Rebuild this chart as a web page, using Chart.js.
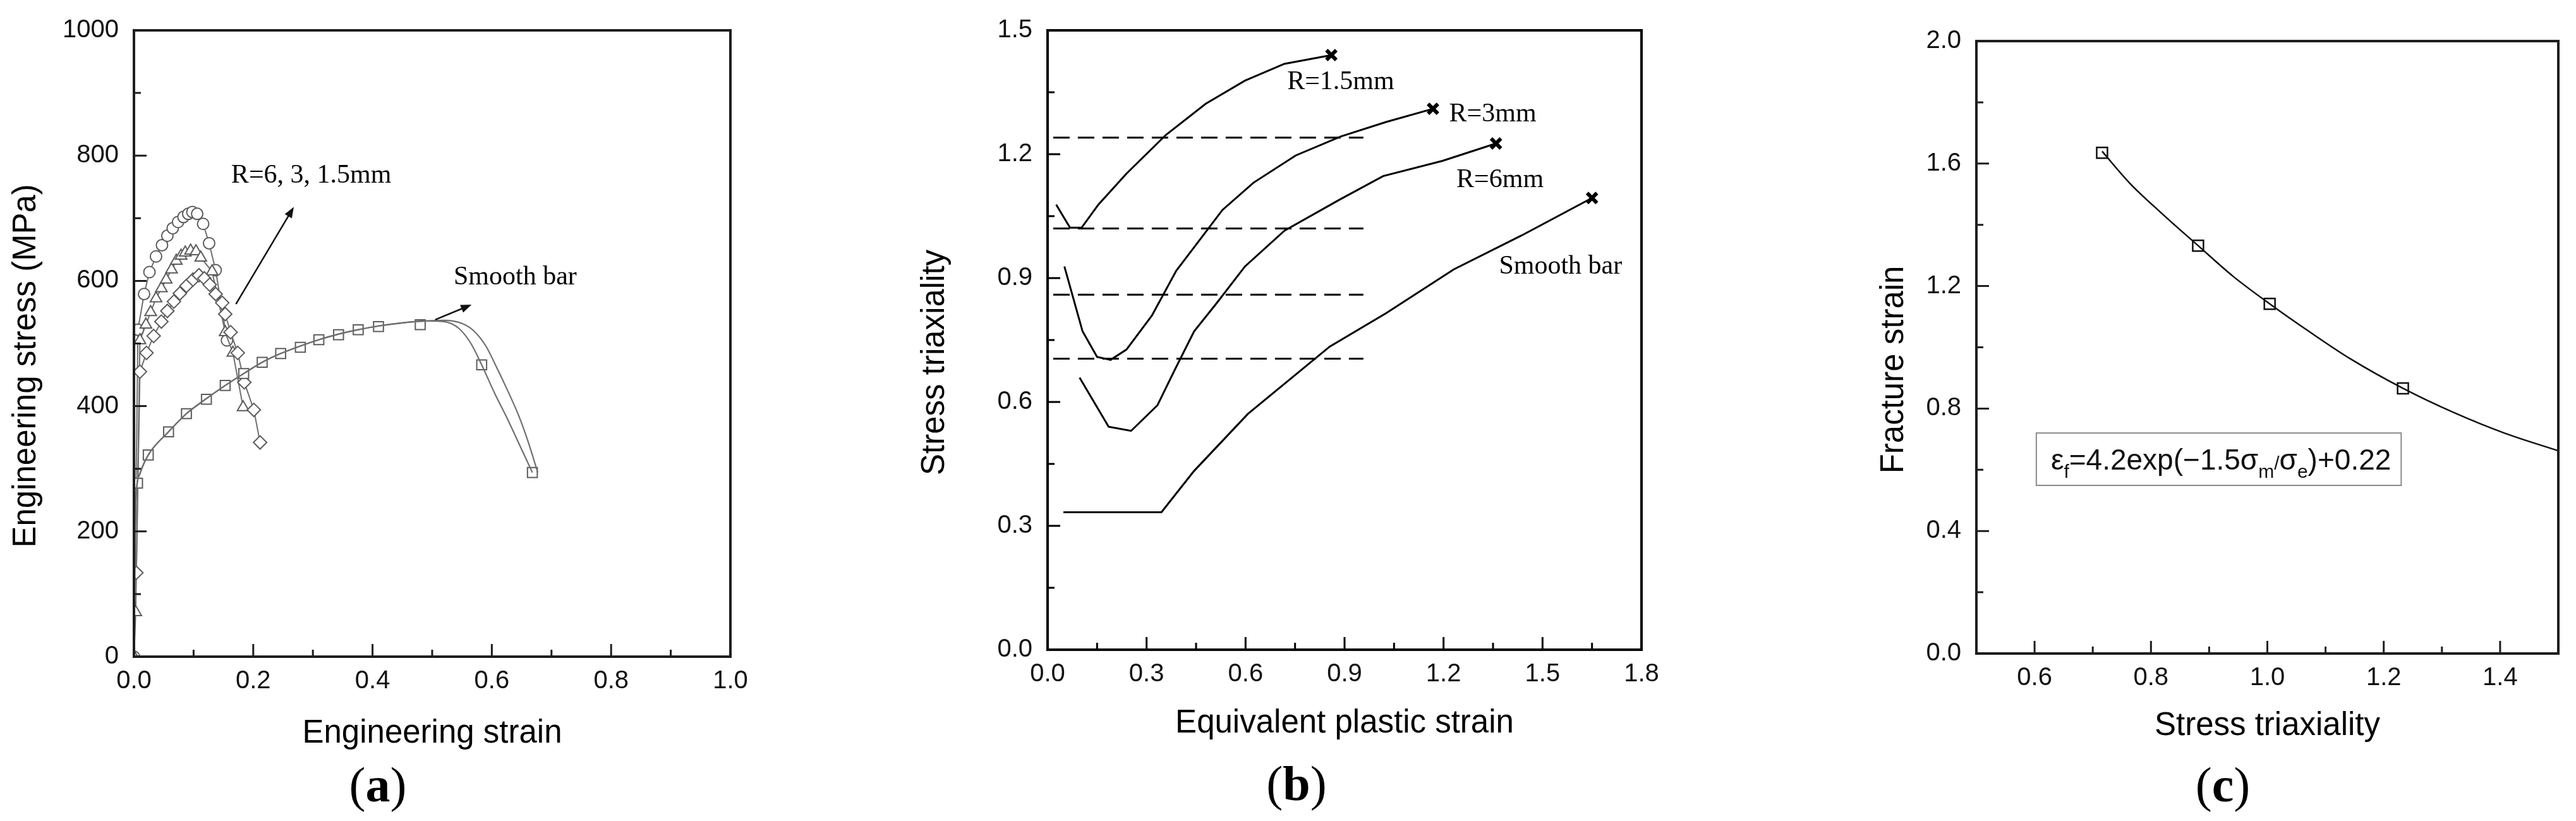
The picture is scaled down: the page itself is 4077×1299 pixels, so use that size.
<!DOCTYPE html>
<html>
<head>
<meta charset="utf-8">
<script src="https://cdn.jsdelivr.net/npm/chart.js@4.4.1/dist/chart.umd.min.js"></script>
<style>
html, body { margin: 0; padding: 0; background: #fff; }
#wrap { position: relative; width: 4077px; height: 1299px; overflow: hidden; background: #fff; }
canvas { position: absolute; top: 0; }
.lab { position: absolute; font-family: "Liberation Serif", "Times New Roman", serif; font-size: 78px; line-height: 1; color: #000; transform: translate(-50%, -50%); white-space: nowrap; }
</style>
</head>
<body>
<div id="wrap">
  <canvas id="chartA" width="1360" height="1299" style="left:0px"></canvas>
  <canvas id="chartB" width="1400" height="1299" style="left:1360px"></canvas>
  <canvas id="chartC" width="1317" height="1299" style="left:2760px"></canvas>
  <div class="lab" style="left:598px;top:1242px">(<b>a</b>)</div>
  <div class="lab" style="left:2052px;top:1240px">(<b>b</b>)</div>
  <div class="lab" style="left:3518px;top:1242px">(<b>c</b>)</div>
</div>
<script>
// (a) engineering stress-strain, [strain, MPa]
const A_R15 = [[0,0],[0.0067,522],[0.017,579],[0.026,614],[0.037,639],[0.047,657],[0.056,672],[0.065,684],[0.074,694],[0.083,702],[0.091,707],[0.098,710],[0.106,707],[0.116,691],[0.126,660],[0.137,617],[0.156,505]];
const A_R3 = [[0,0],[0.003,71],[0.01,505],[0.02,530],[0.028,550],[0.037,572],[0.046,588],[0.054,602],[0.063,618],[0.071,632],[0.079,640],[0.086,645],[0.095,648],[0.104,647],[0.112,637],[0.131,615],[0.153,518],[0.166,485],[0.183,398]];
const A_R6 = [[0.004,134],[0.010,455],[0.021,485],[0.033,512],[0.046,535],[0.056,552],[0.067,567],[0.077,580],[0.088,592],[0.099,602],[0.109,609],[0.118,604],[0.127,594],[0.137,579],[0.148,565],[0.153,547],[0.162,518],[0.174,485],[0.185,438],[0.201,394],[0.2115,342]];
const A_SMOOTH_PTS = [[0.006,277],[0.024,322],[0.058,359],[0.088,388],[0.1215,411],[0.153,433],[0.184,452],[0.215,470],[0.246,484],[0.279,494],[0.31,506],[0.343,514],[0.376,522],[0.41,527],[0.48,530],[0.583,466],[0.668,294]];
const A_SMOOTH_1 = [[0,0],[0.002,200],[0.004,262],[0.01,292],[0.024,322],[0.058,359],[0.088,388],[0.12,411],[0.153,433],[0.184,452],[0.215,470],[0.246,484],[0.279,496],[0.31,506],[0.343,515],[0.376,522],[0.41,528],[0.45,533],[0.49,536],[0.52,535],[0.545,524],[0.565,500],[0.583,466],[0.605,420],[0.627,378],[0.648,335],[0.668,294]];
const A_SMOOTH_2 = [[0,0],[0.002,200],[0.004,262],[0.01,292],[0.024,322],[0.058,359],[0.088,388],[0.12,411],[0.153,433],[0.184,452],[0.215,470],[0.246,484],[0.279,496],[0.31,506],[0.343,515],[0.376,522],[0.41,528],[0.45,533],[0.49,536],[0.52,537],[0.55,532],[0.57,520],[0.59,496],[0.606,466],[0.625,428],[0.645,385],[0.662,340],[0.677,294]];
const A_XTICKS = [0, 0.2, 0.4, 0.6, 0.8, 1.0];
const A_XMINOR = [0.1, 0.3, 0.5, 0.7, 0.9];
const A_YTICKS = [0, 200, 400, 600, 800, 1000];
const A_YMINOR = [100, 300, 500, 700, 900];

// (b) stress triaxiality vs equivalent plastic strain
const B_R15 = [[0.026,1.078],[0.068,1.022],[0.103,1.022],[0.154,1.078],[0.239,1.153],[0.359,1.247],[0.479,1.322],[0.598,1.378],[0.718,1.419],[0.86,1.44]];
const B_R3 = [[0.051,0.928],[0.106,0.771],[0.15,0.709],[0.191,0.702],[0.239,0.727],[0.316,0.809],[0.39,0.918],[0.453,0.984],[0.53,1.065],[0.624,1.131],[0.752,1.197],[0.889,1.243],[1.026,1.278],[1.168,1.31]];
const B_R6 = [[0.097,0.659],[0.185,0.54],[0.253,0.53],[0.333,0.592],[0.385,0.677],[0.444,0.771],[0.513,0.84],[0.598,0.928],[0.718,1.015],[0.885,1.09],[1.017,1.147],[1.197,1.184],[1.359,1.226]];
const B_SMOOTH = [[0.048,0.333],[0.345,0.333],[0.444,0.433],[0.607,0.571],[0.855,0.734],[1.026,0.815],[1.231,0.921],[1.436,1.003],[1.65,1.094]];
const B_AVG = [1.24, 1.02, 0.86, 0.705];
const B_AVG_SPAN = [0.017, 0.957];
const B_XTICKS = [0, 0.3, 0.6, 0.9, 1.2, 1.5, 1.8];
const B_XMINOR = [0.15, 0.45, 0.75, 1.05, 1.35, 1.65];
const B_YTICKS = [0, 0.3, 0.6, 0.9, 1.2, 1.5];
const B_YMINOR = [0.15, 0.45, 0.75, 1.05, 1.35];

// (c) fracture strain vs stress triaxiality
const C_TEST = [[0.716,1.635],[0.881,1.332],[1.004,1.142],[1.233,0.866]];
const C_FIT = [[0.716,1.64],[0.764,1.535],[0.817,1.44],[0.881,1.332],[0.941,1.232],[1.004,1.142],[1.073,1.05],[1.143,0.962],[1.233,0.866],[1.319,0.788],[1.407,0.72],[1.5,0.662]];
const C_XTICKS = [0.6, 0.8, 1.0, 1.2, 1.4];
const C_XMINOR = [0.7, 0.9, 1.1, 1.3];
const C_YTICKS = [0, 0.4, 0.8, 1.2, 1.6, 2.0];
const C_YMINOR = [0.2, 0.6, 1.0, 1.4, 1.8];

const SANS = '"Liberation Sans", Arial, sans-serif';
const SERIF = '"Liberation Serif", "Times New Roman", serif';
const NB = '\u00a0\u00a0\u00a0\u00a0\u00a0'; // y titles sit a bit below the axis middle in the original
Chart.defaults.font.family = SANS;
Chart.defaults.color = '#000';

function pts(a) { return a.map(function (p) { return { x: p[0], y: p[1] }; }); }

// box round the plot and inward major/minor ticks
const framePlugin = {
  id: 'frame',
  afterDatasetsDraw: function (chart, args, o) {
    const ctx = chart.ctx, a = chart.chartArea, x = chart.scales.x, y = chart.scales.y;
    ctx.save();
    ctx.strokeStyle = o.color;
    ctx.lineWidth = o.width;
    ctx.strokeRect(a.left, a.top, a.right - a.left, a.bottom - a.top);
    ctx.lineWidth = o.tickWidth;
    ctx.beginPath();
    function tx(vals, len) { vals.forEach(function (v) { const p = x.getPixelForValue(v); ctx.moveTo(p, a.bottom); ctx.lineTo(p, a.bottom - len); }); }
    function ty(vals, len) { vals.forEach(function (v) { const p = y.getPixelForValue(v); ctx.moveTo(a.left, p); ctx.lineTo(a.left + len, p); }); }
    tx(x.ticks.map(function (t) { return t.value; }), o.major);
    tx(o.xMinor, o.minor);
    ty(y.ticks.map(function (t) { return t.value; }), o.major);
    ty(o.yMinor, o.minor);
    ctx.stroke();
    ctx.restore();
  }
};

// free text, arrows and the formula box, placed in data units
const notesPlugin = {
  id: 'notes',
  afterDatasetsDraw: function (chart, args, o) {
    const ctx = chart.ctx, x = chart.scales.x, y = chart.scales.y;
    const px = function (v) { return x.getPixelForValue(v); }, py = function (v) { return y.getPixelForValue(v); };
    ctx.save();
    ctx.fillStyle = '#000';
    ctx.textBaseline = 'middle';
    (o.texts || []).forEach(function (t) {
      ctx.font = t.font;
      ctx.textAlign = 'left';
      ctx.fillText(t.text, px(t.x), py(t.y));
    });
    (o.arrows || []).forEach(function (ar) {
      const x0 = px(ar.from[0]), y0 = py(ar.from[1]), x1 = px(ar.to[0]), y1 = py(ar.to[1]);
      const ang = Math.atan2(y1 - y0, x1 - x0), hl = 17, hw = 6.5;
      ctx.strokeStyle = '#111';
      ctx.lineWidth = 2.5;
      ctx.beginPath();
      ctx.moveTo(x0, y0);
      ctx.lineTo(x1 - Math.cos(ang) * hl * 0.8, y1 - Math.sin(ang) * hl * 0.8);
      ctx.stroke();
      ctx.beginPath();
      ctx.moveTo(x1, y1);
      ctx.lineTo(x1 - Math.cos(ang) * hl - Math.sin(ang) * hw, y1 - Math.sin(ang) * hl + Math.cos(ang) * hw);
      ctx.lineTo(x1 - Math.cos(ang) * hl + Math.sin(ang) * hw, y1 - Math.sin(ang) * hl - Math.cos(ang) * hw);
      ctx.closePath();
      ctx.fillStyle = '#111';
      ctx.fill();
    });
    if (o.formula) {
      const f = o.formula;
      const bx0 = px(f.box[0]), by0 = py(f.box[1]), bx1 = px(f.box[2]), by1 = py(f.box[3]);
      ctx.strokeStyle = '#8a8a8a';
      ctx.lineWidth = 2;
      ctx.strokeRect(bx0, by0, bx1 - bx0, by1 - by0);
      ctx.textBaseline = 'alphabetic';
      ctx.textAlign = 'left';
      ctx.fillStyle = '#111';
      let cx = px(f.x);
      const base = py(f.y) + 16;
      f.parts.forEach(function (p) {
        const sub = p[1] === 1, small = p[1] > 0;
        ctx.font = (small ? '30px ' : '46px ') + SANS;
        ctx.fillText(p[0], cx, base + (sub ? 13 : 0));
        cx += ctx.measureText(p[0]).width;
      });
    }
    ctx.restore();
  }
};

function axis(opts) {
  return {
    type: 'linear',
    position: opts.pos,
    min: opts.min,
    max: opts.max,
    grid: { display: false, drawTicks: false, tickLength: 0 },
    border: { display: false },
    afterBuildTicks: function (s) { s.ticks = opts.ticks.map(function (v) { return { value: v }; }); },
    afterFit: function (s) { if (opts.pos === 'left') s.width = opts.size; else s.height = opts.size; },
    ticks: {
      autoSkip: false,
      maxRotation: 0,
      padding: opts.pos === 'left' ? 24 : 15,
      color: '#111',
      font: { family: SANS, size: 40 },
      callback: opts.fmt
    },
    title: {
      display: true,
      text: opts.title,
      color: '#000',
      font: { family: SANS, size: 51, lineHeight: 1 },
      padding: opts.pos === 'left' ? { top: opts.titlePad, bottom: 0 } : { top: 0, bottom: opts.titlePad }
    }
  };
}

function baseOptions(pad, xAxis, yAxis, frame, notes) {
  return {
    responsive: false,
    animation: false,
    events: [],
    devicePixelRatio: 1,
    layout: { padding: pad },
    plugins: { legend: { display: false }, tooltip: { enabled: false }, frame: frame, notes: notes },
    scales: { x: xAxis, y: yAxis }
  };
}

// ---------- (a)
const grayLine = '#6f6f6f';
function marked(data, style, r) {
  return {
    data: pts(data), showLine: true, tension: 0,
    borderColor: grayLine, borderWidth: 2,
    pointStyle: style, pointRadius: r, pointBorderWidth: 2,
    pointBorderColor: '#5c5c5c', pointBackgroundColor: '#fff'
  };
}
function smooth(data) {
  return { data: pts(data), showLine: true, cubicInterpolationMode: 'monotone', borderColor: grayLine, borderWidth: 2.2, pointRadius: 0 };
}
new Chart(document.getElementById('chartA'), {
  type: 'scatter',
  data: {
    datasets: [
      smooth(A_SMOOTH_1),
      smooth(A_SMOOTH_2),
      Object.assign(marked(A_SMOOTH_PTS, 'rect', 11), { showLine: false }),
      marked(A_R6, 'rectRot', 10.5),
      marked(A_R3, 'triangle', 10.5),
      marked(A_R15, 'circle', 9)
    ]
  },
  options: baseOptions(
    { left: 0, top: 44, right: 204, bottom: 0 },
    axis({ pos: 'bottom', min: 0, max: 1, ticks: A_XTICKS, size: 260, title: 'Engineering strain', titlePad: 113, fmt: function (v) { return v.toFixed(1); } }),
    axis({ pos: 'left', min: 0, max: 1000, ticks: A_YTICKS, size: 212, title: 'Engineering stress (MPa)' + NB, titlePad: 16, fmt: function (v) { return String(v); } }),
    { color: '#1e1e1e', width: 4, tickWidth: 3, major: 20, minor: 11, xMinor: A_XMINOR, yMinor: A_YMINOR },
    {
      texts: [
        { text: 'R=6, 3, 1.5mm', x: 0.163, y: 768, font: '42px ' + SERIF },
        { text: 'Smooth bar', x: 0.536, y: 605, font: '42px ' + SERIF }
      ],
      arrows: [
        { from: [0.171, 563], to: [0.268, 718] },
        { from: [0.505, 538], to: [0.566, 562] }
      ]
    }
  ),
  plugins: [framePlugin, notesPlugin]
});

// ---------- (b)
function triax(data) {
  return {
    data: pts(data), showLine: true, tension: 0,
    borderColor: '#000', borderWidth: 3,
    pointStyle: 'crossRot',
    pointRadius: function (c) { return c.dataIndex === c.dataset.data.length - 1 ? 11 : 0; },
    pointBorderWidth: 6, pointBorderColor: '#000'
  };
}
const bSets = [triax(B_R15), triax(B_R3), triax(B_R6), triax(B_SMOOTH)];
B_AVG.forEach(function (v) {
  bSets.push({
    data: pts([[B_AVG_SPAN[0], v], [B_AVG_SPAN[1], v]]), showLine: true,
    borderColor: '#000', borderWidth: 3, borderDash: [26, 13], pointRadius: 0
  });
});
new Chart(document.getElementById('chartB'), {
  type: 'scatter',
  data: { datasets: bSets },
  options: baseOptions(
    { left: 0, top: 37, right: 162, bottom: 0 },
    axis({ pos: 'bottom', min: 0, max: 1.8, ticks: B_XTICKS, size: 271, title: 'Equivalent plastic strain', titlePad: 129, fmt: function (v) { return v.toFixed(1); } }),
    axis({ pos: 'left', min: 0, max: 1.5, ticks: B_YTICKS, size: 298, title: 'Stress triaxiality' + NB, titlePad: 94, fmt: function (v) { return v.toFixed(1); } }),
    { color: '#000', width: 4, tickWidth: 3, major: 20, minor: 11, xMinor: B_XMINOR, yMinor: B_YMINOR },
    {
      texts: [
        { text: 'R=1.5mm', x: 0.726, y: 1.375, font: '42px ' + SERIF },
        { text: 'R=3mm', x: 1.217, y: 1.297, font: '42px ' + SERIF },
        { text: 'R=6mm', x: 1.239, y: 1.137, font: '42px ' + SERIF },
        { text: 'Smooth bar', x: 1.368, y: 0.928, font: '42px ' + SERIF }
      ]
    }
  ),
  plugins: [framePlugin, notesPlugin]
});

// ---------- (c)
new Chart(document.getElementById('chartC'), {
  type: 'scatter',
  data: {
    datasets: [
      { data: pts(C_FIT), showLine: true, cubicInterpolationMode: 'monotone', borderColor: '#111', borderWidth: 2.5, pointRadius: 0 },
      { data: pts(C_TEST), showLine: false, pointStyle: 'rect', pointRadius: 12, pointBorderWidth: 2.5, pointBorderColor: '#111', pointBackgroundColor: 'rgba(255,255,255,0)' }
    ]
  },
  options: baseOptions(
    { left: 0, top: 65, right: 28, bottom: 0 },
    axis({ pos: 'bottom', min: 0.5, max: 1.5, ticks: C_XTICKS, size: 265, title: 'Stress triaxiality', titlePad: 125, fmt: function (v) { return v.toFixed(1); } }),
    axis({ pos: 'left', min: 0, max: 2.0, ticks: C_YTICKS, size: 368, title: 'Fracture strain' + NB, titlePad: 212, fmt: function (v) { return v.toFixed(1); } }),
    { color: '#1e1e1e', width: 4, tickWidth: 3, major: 20, minor: 11, xMinor: C_XMINOR, yMinor: C_YMINOR },
    {
      formula: {
        box: [0.603, 0.72, 1.23, 0.549],
        x: 0.628, y: 0.634,
        parts: [['ε', 0], ['f', 1], ['=4.2exp(−1.5σ', 0], ['m', 1], ['/', 2], ['σ', 0], ['e', 1], [')+0.22', 0]]
      }
    }
  ),
  plugins: [framePlugin, notesPlugin]
});
</script>
</body>
</html>
